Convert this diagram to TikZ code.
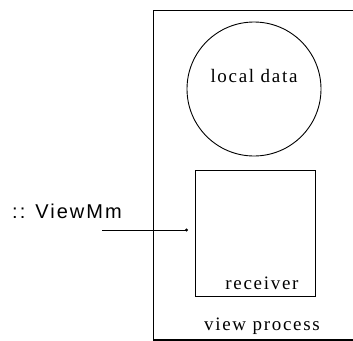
\documentclass[tikz,border=0pt]{standalone}
\usepackage{fontspec}
\setmainfont{Liberation Serif}
\newfontfamily\partfont[LetterSpace=9]{Liberation Serif}
\newfontfamily\msgfont[LetterSpace=10]{Liberation Sans}
\usetikzlibrary{arrows.meta}

\tikzset{
	box/.style={draw, inner sep=0pt, line width=1.1pt},
	partlabel/.style={inner sep=0pt, font=\partfont\fontsize{19}{19}\selectfont},
	msglabel/.style={inner sep=0pt, font=\msgfont\fontsize{20}{20}\selectfont}
}

\begin{document}
\begin{tikzpicture}[x=1pt, y=-1pt]
	\useasboundingbox (0,0) rectangle (353,340);
	% the process with its two parts
	\node (proc) [box, line width=1.6pt, anchor=north west, minimum width=200pt, minimum height=329.5pt] at (152.5,9.5) {};
	\node (data) [box, circle, line width=0.9pt, minimum size=134pt] at (254,89) {};
	\node (recv) [box, anchor=north west, minimum width=120pt, minimum height=126pt] at (195,169.5) {};
	\node (datalbl) [partlabel] at (254,76) {local data};
	\node (recvlbl) [partlabel] at (262,283.5) {receiver};
	\node (proclbl) [partlabel] at (262,326) {view process};
	% incoming message
	\node (msg) [msglabel, anchor=west] at (12,211) {:: ViewMm};
	\coordinate (msgin) at (102,230);
	\draw [line width=1pt, -{Circle[length=3pt]}] (msgin) -- ([xshift=-7pt]msgin -| recv.west);
\end{tikzpicture}
\end{document}
